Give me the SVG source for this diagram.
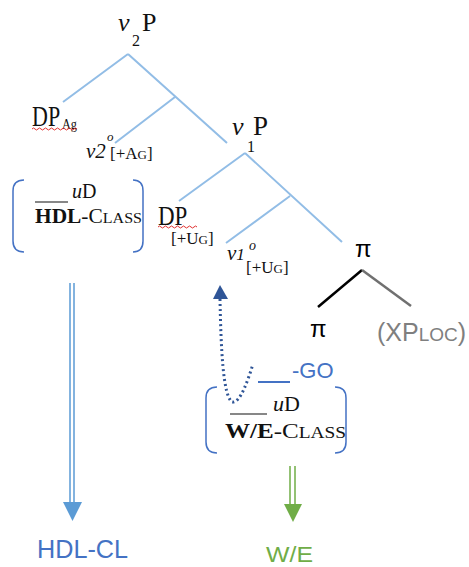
<svg xmlns="http://www.w3.org/2000/svg" width="469" height="567" viewBox="0 0 469 567">
<style>
.tree{stroke:#92bde6;stroke-width:2;fill:none}
.ser{font-family:"Liberation Serif",serif;fill:#111}
.it{font-style:italic}
.san{font-family:"Liberation Sans",Arial,sans-serif}
.brk{stroke:#4472c4;stroke-width:1.5;fill:none}
.sq{stroke:#e03030;stroke-width:1;fill:none}
</style>
<rect width="469" height="567" fill="#fff"/>
<g id="connectors">
<path class="tree" d="M128 54 L63 102 M128 54 L227 143 M175 97 L115 143"/>
<path class="tree" d="M245 153 L179 201 M245 153 L342 242 M290 196 L226 243"/>
<path d="M362 270 L318 307" stroke="#000" stroke-width="2.5" fill="none"/>
<path d="M362 270 L411 306" stroke="#707070" stroke-width="2.5" fill="none"/>
<path d="M220 299 C221 350 223 395 232 402 C240 404 248 380 253 364" stroke="#2f5597" stroke-width="3" stroke-dasharray="2 3" fill="none"/>
<polygon points="220,285 213,299 228,299" fill="#2f5597"/>
<path d="M70 283 V503 M74 283 V503" stroke="#5b9bd5" stroke-width="1.5"/>
<polygon points="63,502 82,502 72.5,521" fill="#5b9bd5"/>
<path d="M290 466 V505 M295 466 V505" stroke="#70ad47" stroke-width="1.5"/>
<polygon points="284,504 302,504 293,522" fill="#70ad47"/>
</g>
<g id="v2P">
<text class="ser it" x="118" y="31" font-size="26">v</text>
<text class="ser" x="132" y="46" font-size="16">2</text>
<text class="ser" x="142" y="31" font-size="26">P</text>
</g>
<g id="DPAg">
<text class="ser" font-size="22" transform="translate(32,126) scale(1,1.35)">DP</text>
<text class="ser" x="62" y="129" font-size="14" textLength="15" lengthAdjust="spacingAndGlyphs">Ag</text>
<path class="sq" d="M32 129 q1.5 -2 3 0 t3 0 t3 0 t3 0 t3 0 t3 0 t3 0 t3 0 t3 0 t3 0 t3 0 t3 0 t3 0 t3 0 t3 0"/>
</g>
<g id="v2o">
<text class="ser it" x="86" y="158" font-size="21" fill="#3a3020">v2</text>
<text class="ser it" x="107" y="141" font-size="13">o</text>
<text class="ser" x="110" y="159" font-size="17">[+A<tspan font-size="13">G</tspan>]</text>
</g>
<g id="v1P">
<text class="ser it" x="232" y="135" font-size="26">v</text>
<text class="ser" x="247" y="152" font-size="16">1</text>
<text class="ser" x="253" y="135" font-size="27">P</text>
</g>
<g id="DPUg">
<text class="ser" font-size="23" transform="translate(158,225) scale(1,1.2)">DP</text>
<path class="sq" d="M158 227 q1.5 -2 3 0 t3 0 t3 0 t3 0 t3 0 t3 0 t3 0 t3 0 t3 0 t3 0 t3 0 t3 0 t3 0"/>
<text class="ser" x="171" y="244" font-size="17">[+U<tspan font-size="13">G</tspan>]</text>
</g>
<g id="v1o">
<text class="ser it" x="227" y="260" font-size="21" fill="#3a3020">v<tspan font-size="17">1</tspan></text>
<text class="ser it" x="249" y="250" font-size="14">o</text>
<text class="ser" x="246" y="273" font-size="17">[+U<tspan font-size="13">G</tspan>]</text>
</g>
<g id="pi">
<text class="san" x="355" y="257" font-size="24" fill="#000">π</text>
</g>
<g id="pi2">
<text class="san" x="310" y="337" font-size="24" fill="#000">π</text>
</g>
<g id="XPloc">
<text class="san" x="377" y="341" font-size="25" fill="#7f7f7f">(XP<tspan font-size="19">LOC</tspan>)</text>
</g>
<g id="HDLbox">
<path class="brk" d="M24 180 Q13 180 13 191 V241 Q13 252 24 252 M133 180 Q143 180 143 191 V241 Q143 252 133 252"/>
<path d="M35 202 H68" stroke="#111" stroke-width="1.2"/>
<text class="ser" x="72" y="198" font-size="20"><tspan font-style="italic">u</tspan>D</text>
<text class="ser" x="35" y="223" font-size="20" textLength="107" lengthAdjust="spacingAndGlyphs"><tspan font-weight="bold">HDL</tspan>-C<tspan font-size="15">LASS</tspan></text>
</g>
<g id="GO">
<path d="M258 382 H290" stroke="#4472c4" stroke-width="2"/>
<text class="san" x="292" y="378" font-size="22" fill="#4472c4">-GO</text>
</g>
<g id="WEbox">
<path class="brk" d="M217 387 Q206 387 206 398 V442 Q206 453 217 453 M335 387 Q346 387 346 398 V442 Q346 453 335 453"/>
<path d="M230 414 H267" stroke="#111" stroke-width="1.2"/>
<text class="ser" x="273" y="411" font-size="22"><tspan font-style="italic">u</tspan>D</text>
<text class="ser" x="225" y="438" font-size="22" textLength="121" lengthAdjust="spacingAndGlyphs"><tspan font-weight="bold">W/E</tspan>-C<tspan font-size="17">LASS</tspan></text>
</g>
<g id="HDLCL">
<text class="san" x="37" y="558" font-size="26" fill="#4472c4" textLength="91" lengthAdjust="spacingAndGlyphs">HDL-CL</text>
</g>
<g id="WE">
<text class="san" x="266" y="562" font-size="22" fill="#70ad47" textLength="47" lengthAdjust="spacingAndGlyphs">W/E</text>
</g>
</svg>
